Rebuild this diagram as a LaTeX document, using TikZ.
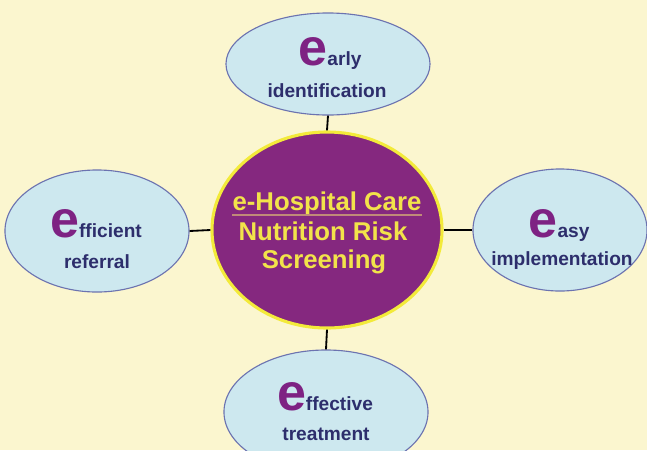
\documentclass[tikz,border=0pt]{standalone}
\usepackage{fontspec}
\setmainfont{Liberation Sans}
\usepackage{tikz}
\usetikzlibrary{shapes.geometric}

\definecolor{bgcol}{HTML}{FBF6CF}
\definecolor{bubfill}{HTML}{CDE8EF}
\definecolor{bubline}{HTML}{6C73B0}
\definecolor{hubfill}{HTML}{85287F}
\definecolor{hubline}{HTML}{F3EA3A}
\definecolor{hubtext}{HTML}{F2E34A}
\definecolor{ulcol}{HTML}{C08A78}
\definecolor{navy}{HTML}{2D2E6C}
\definecolor{epurple}{HTML}{7E2283}

\begin{document}
\begin{tikzpicture}[x=0.025cm, y=-0.025cm,
  bubble/.style={ellipse, draw=bubline, fill=bubfill, line width=0.8pt, inner sep=0},
  word/.style={anchor=base, inner sep=0, text=navy, font=\bfseries\fontsize{13.6}{16}\selectfont},
  hubword/.style={anchor=base, inner sep=0, text=hubtext, font=\bfseries\fontsize{18.3}{21}\selectfont},
  spoke/.style={black, line width=1.3pt}]

% big purple e
\def\E{{\color{epurple}\fontsize{37}{37}\selectfont e}}

% Background
\clip (0,0) rectangle (647,450);
\fill[bgcol] (0,0) rectangle (647,450);

% Draw the center
\node[ellipse, fill=hubfill, draw=hubline, line width=2.2pt, inner sep=0,
      minimum width=5.75cm, minimum height=4.9cm] (hub) at (327,230) {};
\node[hubword] (care) at (327,210) {e-Hospital Care};
\draw[ulcol, line width=1.1pt] ([yshift=-3.6pt]care.base west) -- ([yshift=-3.6pt]care.base east);
\node[hubword] (risk) at (323,240) {Nutrition Risk};
\node[hubword] (screen) at (324,268) {Screening};

% Draw the four bubbles
\node[bubble, minimum width=5.1cm, minimum height=2.55cm] (early) at (328,64) {};
\node[bubble, minimum width=4.6cm, minimum height=3.05cm] (efficient) at (97,231) {};
\node[bubble, minimum width=4.35cm, minimum height=3.05cm] (easy) at (560,230) {};
\node[bubble, minimum width=5.1cm, minimum height=3.1cm] (effective) at (326,412) {};

% Labels
\node[word] (earlyA) at (330,65) {\E arly};
\node[word] (earlyB) at (327,97) {identification};
\node[word] (efficientA) at (96,237) {\E fficient};
\node[word] (efficientB) at (97,268) {referral};
\node[word] (easyA) at (559,237) {\E asy};
\node[word] (easyB) at (562,265) {implementation};
\node[word] (effectiveA) at (325,410) {\E ffective};
\node[word] (effectiveB) at (326,440) {treatment};

% Spokes
\draw[spoke] (hub.north) -- (early.south);
\draw[spoke] (hub.west) -- (efficient.east);
\draw[spoke] (hub.east) -- (easy.west);
\draw[spoke] (hub.south) -- (effective.north);

\end{tikzpicture}
\end{document}
